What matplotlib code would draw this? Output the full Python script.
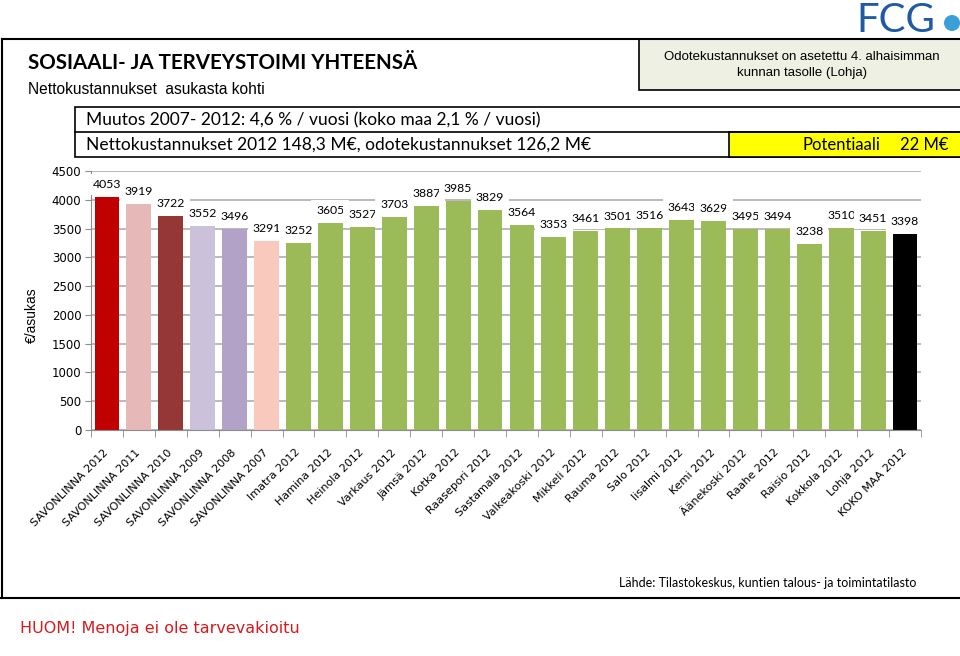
import matplotlib.pyplot as plt
import matplotlib.patches as mpatches
import numpy as np

# data
labels = ['SAVONLINNA 2012', 'SAVONLINNA 2011', 'SAVONLINNA 2010', 'SAVONLINNA 2009',
          'SAVONLINNA 2008', 'SAVONLINNA 2007', 'Imatra 2012', 'Hamina 2012',
          'Heinola 2012', 'Varkaus 2012', 'Jämsä 2012', 'Kotka 2012',
          'Raasepori 2012', 'Sastamala 2012', 'Valkeakoski 2012', 'Mikkeli 2012',
          'Rauma 2012', 'Salo 2012', 'Iisalmi 2012', 'Kemi 2012', 'Äänekoski 2012',
          'Raahe 2012', 'Raisio 2012', 'Kokkola 2012', 'Lohja 2012', 'KOKO MAA 2012']
values = [4053, 3919, 3722, 3552, 3496, 3291, 3252, 3605, 3527, 3703, 3887, 3985,
          3829, 3564, 3353, 3461, 3501, 3516, 3643, 3629, 3495, 3494, 3238, 3510,
          3451, 3398]
savo_colors = ['#c00000', '#e6b9b8', '#953735', '#ccc1da', '#b3a2c7', '#fac9be']
green = '#9bbb59'
colors = savo_colors + [green] * 19 + ['#000000']

fig = plt.figure(figsize=(9.6, 6.56), dpi=100)
W, H = 960, 656


def fx(px):
    return px / W


def fy(py):
    return 1 - py / H


# outer frame lines
fig.add_artist(plt.Line2D([fx(2), fx(2)], [fy(39), fy(598)], color='black', lw=1.5))
fig.add_artist(plt.Line2D([fx(2), 1], [fy(39), fy(39)], color='black', lw=1.5))
fig.add_artist(plt.Line2D([0, 1], [fy(598), fy(598)], color='black', lw=1.5))

# green note box
fig.add_artist(mpatches.Rectangle((fx(639), fy(90)), 1 - fx(639) + 0.01, (90 - 39) / H,
                                  facecolor='#eef0e4', edgecolor='black', lw=1.2))
fig.text(fx(802), fy(57), 'Odotekustannukset on asetettu 4. alhaisimman',
         ha='center', va='center', fontsize=9.5, family='Liberation Sans')
fig.text(fx(802), fy(73), 'kunnan tasolle (Lohja)',
         ha='center', va='center', fontsize=9.5, family='Liberation Sans')

# logo
fig.text(fx(856), fy(20), 'FCG', ha='left', va='center', fontsize=29,
         family='Lato', color='#1f5aa6')
fig.add_artist(mpatches.Ellipse((fx(952), fy(23)), 16 / W, 16 / H,
                                transform=fig.transFigure,
                                facecolor='#3ca0d8', edgecolor='none'))

# titles
fig.text(fx(28), fy(63), 'SOSIAALI- JA TERVEYSTOIMI YHTEENSÄ', ha='left', va='center',
         fontsize=14.8, fontweight='bold', family='Lato')
fig.text(fx(28), fy(90), 'Nettokustannukset  asukasta kohti', ha='left', va='center',
         fontsize=11.2, family='Liberation Sans')

# info boxes
fig.add_artist(mpatches.Rectangle((fx(75), fy(157)), 1, (157 - 107) / H,
                                  facecolor='white', edgecolor='black', lw=1.2))
fig.add_artist(plt.Line2D([fx(75), 1], [fy(132), fy(132)], color='black', lw=1.2))
fig.add_artist(mpatches.Rectangle((fx(729), fy(157)), 1, (157 - 132) / H,
                                  facecolor='#ffff00', edgecolor='black', lw=1.2))
fig.text(fx(86), fy(120), 'Muutos 2007- 2012: 4,6 % / vuosi (koko maa 2,1 % / vuosi)',
         ha='left', va='center', fontsize=12.5, family='Lato')
fig.text(fx(86), fy(145), 'Nettokustannukset 2012 148,3 M€, odotekustannukset 126,2 M€',
         ha='left', va='center', fontsize=12.5, family='Lato')
fig.text(fx(802), fy(145), 'Potentiaali', ha='left', va='center', fontsize=12, family='Lato')
fig.text(fx(900), fy(145), '22 M€', ha='left', va='center', fontsize=12, family='Lato')

# chart
ax = fig.add_axes([fx(91), fy(430), fx(921) - fx(91), (430 - 171) / H])
x = np.arange(len(labels))
bars = ax.bar(x, values, width=0.78, color=colors, zorder=2)
ax.set_xlim(-0.5, len(labels) - 0.5)
ax.set_ylim(0, 4500)
ax.set_yticks(np.arange(0, 4501, 500))
ax.yaxis.grid(True, color='#b4b4b4', lw=1.3, zorder=0)
ax.set_axisbelow(True)
for s in ['top', 'right']:
    ax.spines[s].set_visible(False)
for s in ['left', 'bottom']:
    ax.spines[s].set_color('#8c8c8c')
ax.tick_params(axis='y', length=4, color='#8c8c8c', labelsize=8.5, pad=3)
for t in ax.get_yticklabels():
    t.set_family('DejaVu Sans')
ax.set_xticks(x)
ax.set_xticklabels(labels, rotation=45, ha='right', va='center', rotation_mode='anchor',
                   fontsize=8, family='DejaVu Sans')
ax.tick_params(axis='x', which='major', length=0, pad=15)
ax.set_xticks(np.arange(-0.5, len(labels), 1), minor=True)
ax.tick_params(axis='x', which='minor', length=5, color='#8c8c8c')

for b, v in zip(bars, values):
    ax.annotate(str(v), (b.get_x() + b.get_width() / 2, v), xytext=(0, 5),
                textcoords='offset points', ha='center', va='bottom', fontsize=8.8,
                family='Lato', zorder=3,
                bbox=dict(boxstyle='square,pad=0.4', facecolor='white', edgecolor='none'))

fig.text(fx(32), fy(315), '€/asukas', rotation=90, ha='center', va='center',
         fontsize=10, family='Liberation Sans')

fig.text(fx(619), fy(583), 'Lähde: Tilastokeskus, kuntien talous- ja toimintatilasto',
         ha='left', va='center', fontsize=9, family='Lato')
fig.text(fx(20), fy(628), 'HUOM! Menoja ei ole tarvevakioitu', ha='left', va='center',
         fontsize=11.5, family='DejaVu Sans', color='#d7191c')

fig.savefig('out.png', dpi=100)
